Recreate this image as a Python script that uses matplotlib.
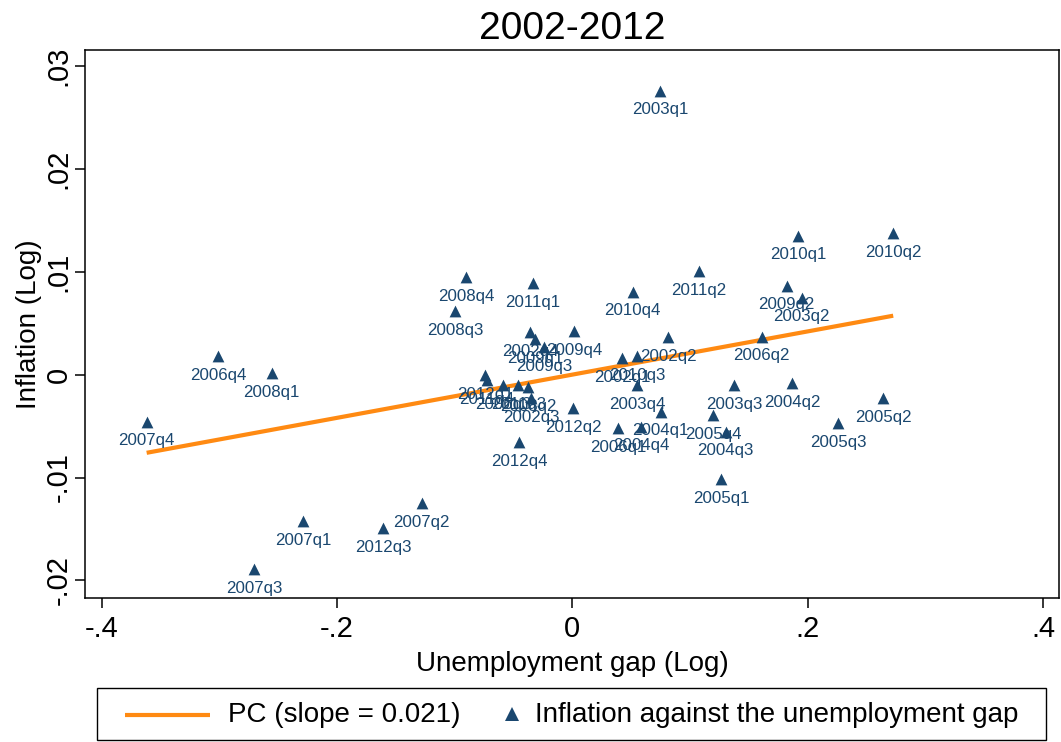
import matplotlib
matplotlib.use("Agg")
import matplotlib.pyplot as plt
from matplotlib.lines import Line2D
from matplotlib.patches import Rectangle
import numpy as np

plt.rcParams['font.family'] = ['Liberation Sans', 'DejaVu Sans']

# Quarterly observations: unemployment gap (log) and inflation (log)
quarters = [
    "2002q1", "2002q2", "2002q3", "2002q4",
    "2003q1", "2003q2", "2003q3", "2003q4",
    "2004q1", "2004q2", "2004q3", "2004q4",
    "2005q1", "2005q2", "2005q3", "2005q4",
    "2006q1", "2006q2", "2006q3", "2006q4",
    "2007q1", "2007q2", "2007q3", "2007q4",
    "2008q1", "2008q2", "2008q3", "2008q4",
    "2009q1", "2009q2", "2009q3", "2009q4",
    "2010q1", "2010q2", "2010q3", "2010q4",
    "2011q1", "2011q2", "2011q3", "2011q4",
    "2012q1", "2012q2", "2012q3", "2012q4",
]
unemp_gap = [
    0.0422, 0.0813, -0.0352, -0.0360,
    0.0745, 0.1949, 0.1373, 0.0549,
    0.0750, 0.1866, 0.1303, 0.0583,
    0.1263, 0.2640, 0.2257, 0.1198,
    0.0390, 0.1609, -0.0590, -0.3010,
    -0.2287, -0.1281, -0.2704, -0.3618,
    -0.2556, -0.0377, -0.0998, -0.0904,
    -0.0318, 0.1821, -0.0241, 0.0016,
    0.1920, 0.2727, 0.0552, 0.0512,
    -0.0335, 0.1076, -0.0460, -0.0726,
    -0.0743, 0.0008, -0.1607, -0.0454,
]
inflation = [
    0.00161, 0.00365, -0.00227, 0.00414,
    0.02759, 0.00747, -0.00101, -0.00101,
    -0.00361, -0.00082, -0.00555, -0.00506,
    -0.01015, -0.00227, -0.00470, -0.00393,
    -0.00522, 0.00368, -0.00101, 0.00181,
    -0.01423, -0.01251, -0.01892, -0.00458,
    0.00013, -0.00121, 0.00618, 0.00949,
    0.00346, 0.00864, 0.00268, 0.00424,
    0.01350, 0.01373, 0.00181, 0.00806,
    0.00890, 0.01007, -0.00101, -0.00052,
    -0.00004, -0.00328, -0.01494, -0.00658,
]

pc_slope = 0.021
pc_intercept = 0.0

x_ticks = [-0.4, -0.2, 0.0, 0.2, 0.4]
x_ticklabels = ["-.4", "-.2", "0", ".2", ".4"]
y_ticks = [-0.02, -0.01, 0.0, 0.01, 0.02, 0.03]
y_ticklabels = ["-.02", "-.01", "0", ".01", ".02", ".03"]

legend_labels = ["PC (slope = 0.021)", "Inflation against the unemployment gap"]

navy = "#1a476f"
orange = "#ff8a12"

W, H = 1061, 742
fig = plt.figure(figsize=(W / 100, H / 100), dpi=100)
ax = fig.add_axes([85 / W, 1 - 598 / H, (1059 - 85) / W, (598 - 50) / H])

x = np.array(unemp_gap)
y = np.array(inflation)

# fitted Phillips curve over the observed range
xs = np.array([x.min(), x.max()])
ax.plot(xs, pc_intercept + pc_slope * xs, color=orange, lw=3.0, zorder=2,
        solid_capstyle="butt")

ax.scatter(x, y, marker="^", s=72, color=navy, linewidths=0, zorder=3)
for q, xi, yi in zip(quarters, x, y):
    ax.annotate(q, (xi, yi), xytext=(0, -13.8), textcoords="offset points",
                ha="center", va="center", fontsize=12.2, color=navy, zorder=4)

ax.set_xlim(-0.4142, 0.4136)
ax.set_ylim(-0.02171, 0.03155)
ax.set_xticks(x_ticks)
ax.set_xticklabels(x_ticklabels)
ax.set_yticks(y_ticks)
ax.set_yticklabels(y_ticklabels, rotation=90, va="center")
ax.tick_params(axis="both", labelsize=21, length=7, width=1.1, colors="black")
ax.tick_params(axis="y", pad=2)
ax.tick_params(axis="x", pad=5)
for s in ax.spines.values():
    s.set_linewidth(1.1)
    s.set_color("black")

ax.set_xlabel("Unemployment gap (Log)", fontsize=20, labelpad=6)
ax.set_ylabel("Inflation (Log)", fontsize=20, labelpad=2)
ax.set_title("2002-2012", fontsize=28, pad=8)


# legend box below the plot, laid out in figure pixels
def fx(px):
    return px / W


def fy(py):
    return 1 - py / H


fig.add_artist(Rectangle((fx(97), fy(740)), fx(1046) - fx(97), fy(688) - fy(740),
                         transform=fig.transFigure, fill=False, edgecolor="black",
                         linewidth=1.0))
fig.add_artist(Line2D([fx(125), fx(210)], [fy(715), fy(715)], transform=fig.transFigure,
                      color=orange, lw=3.0, solid_capstyle="butt"))
fig.add_artist(Line2D([fx(512)], [fy(714)], transform=fig.transFigure, color=navy,
                      marker="^", ls="none", markersize=10, markeredgewidth=0))
fig.text(fx(228), fy(715), legend_labels[0], fontsize=20, ha="left", va="center")
fig.text(fx(535), fy(715), legend_labels[1], fontsize=20, ha="left", va="center")

fig.savefig("out.png", dpi=100)
